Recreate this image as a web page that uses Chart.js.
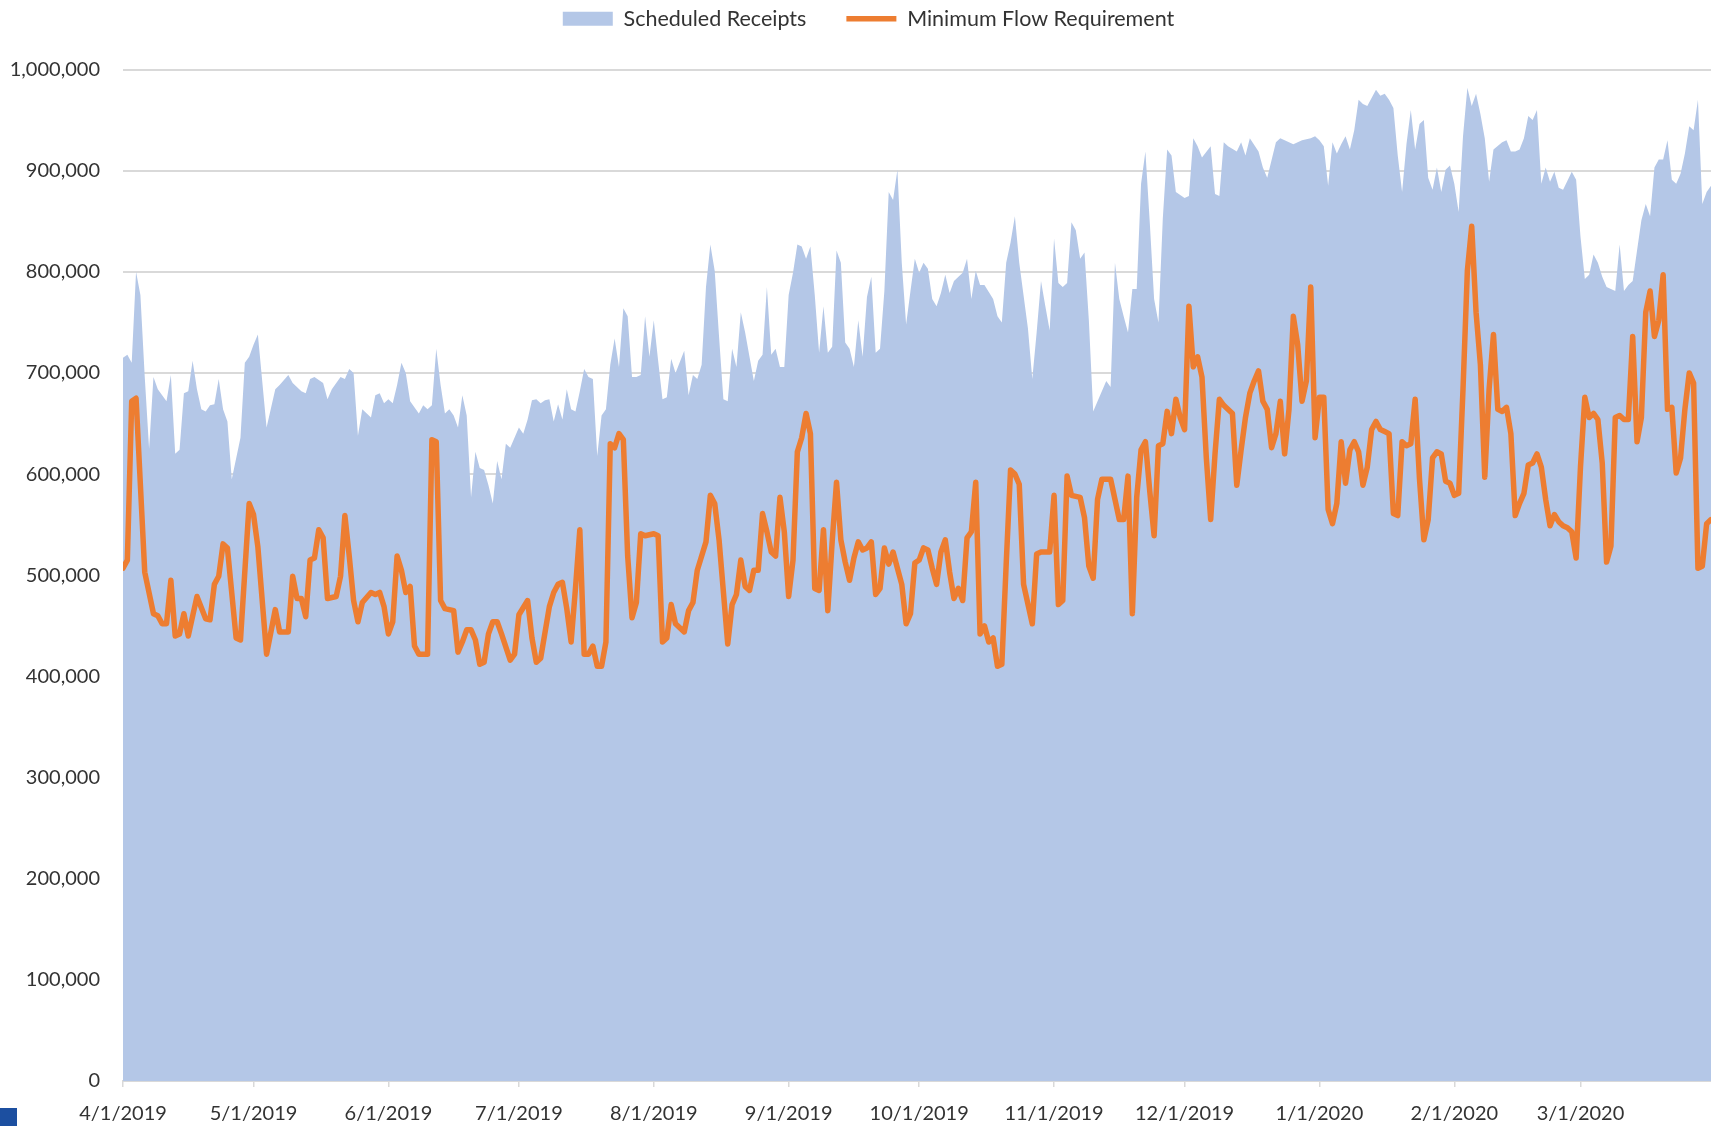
<!DOCTYPE html>
<html>
<head>
<meta charset="utf-8">
<script src="https://cdn.jsdelivr.net/npm/chart.js@4.4.1/dist/chart.umd.min.js"></script>
<style>
  html, body { margin: 0; padding: 0; background: #fff; }
  #wrap { position: relative; width: 1711px; height: 1126px; }
  #corner { position: absolute; left: 0; top: 1108px; width: 17px; height: 18px; background: #1c4fa0; }
</style>
</head>
<body>
<div id="wrap">
  <canvas id="chart" width="1711" height="1126"></canvas>
  <div id="corner"></div>
</div>
<script>
// day offsets from 4/1/2019, values in thousands
const receiptDays = [0,1,2,3,4,5,6,7,8,10,11,12,13,14,15,16,17,18,19,20,21,22,23,24,25,27,28,29,30,31,33,35,36,38,39,41,42,43,44,
  46,47,48,50,51,52,53,54,55,57,58,59,60,61,62,63,64,65,66,68,69,70,71,72,73,74,75,76,77,78,79,80,81,82,83,84,85,86,87,88,89,
  91,92,93,94,95,96,97,98,99,100,101,102,103,104,105,106,107,108,109,110,111,112,113,114,115,116,117,118,119,120,121,122,123,124,125,126,127,129,130,131,132,133,134,
  135,136,137,138,139,140,141,142,143,144,145,146,147,148,149,150,151,152,153,154,155,156,157,158,159,160,161,162,163,164,165,166,167,168,169,170,171,172,173,174,175,176,177,178,179,180,181,182,183,
  184,185,186,187,188,189,190,191,193,194,195,196,197,198,200,201,202,203,204,205,206,208,209,210,211,212,213,214,215,216,217,218,219,220,221,222,223,224,226,
  227,228,229,230,231,232,233,234,235,236,237,238,239,240,241,242,244,245,246,247,248,250,251,252,253,254,256,257,258,259,261,262,263,265,266,267,269,271,273,274,
  275,276,277,278,279,280,281,282,283,284,285,286,288,289,290,291,292,293,294,295,296,297,298,299,300,301,302,303,304,305,306,307,308,309,310,311,312,313,314,315,317,318,319,
  320,321,322,323,324,325,326,327,328,329,330,331,333,334,335,336,337,338,339,340,341,343,344,345,346,347,348,349,350,351,352,353,354,355,356,357,358,359,360,361,362,363,364,365];
const receiptVals = [715,718,710,800,777,696,625,696,684,672,698,620,624,680,682,712,684,664,662,668,669,694,664,652,595,636,710,716,728,738,646,684,688,698,690,682,680,694,696,
  690,674,684,696,694,704,700,638,664,656,678,680,670,674,670,688,710,700,672,660,668,664,668,724,688,660,664,658,646,678,658,577,622,606,604,589,571,613,595,630,626,
  646,640,654,673,674,670,673,674,652,669,654,684,664,662,682,704,696,694,618,658,664,708,734,706,764,756,696,696,698,756,716,752,712,674,676,714,700,722,678,698,694,708,785,
  827,801,736,674,672,724,706,760,740,716,692,712,718,785,718,724,706,706,777,799,827,825,813,825,777,720,766,720,726,821,809,730,724,706,752,716,775,795,720,724,781,879,871,901,809,748,781,813,799,
  809,803,773,766,779,797,779,791,799,813,773,801,787,787,773,756,750,809,829,855,809,744,694,740,791,766,742,833,789,785,789,849,841,813,819,752,662,672,692,686,
  809,773,756,740,783,783,887,919,849,773,750,853,921,915,879,873,875,932,924,913,924,877,875,928,924,919,928,915,932,919,903,893,928,932,930,926,930,932,934,930,
  924,885,928,917,926,934,921,940,970,966,964,980,974,976,970,962,915,879,926,960,921,946,950,893,881,903,879,901,905,887,859,934,982,964,976,956,932,889,921,928,930,919,919,
  921,932,954,950,960,887,903,889,899,883,881,899,891,835,793,797,817,809,795,785,781,827,781,787,791,821,851,867,855,903,911,911,930,891,887,897,917,944,940,970,867,879,885,877];

const flowDays = [0,1,2,3,5,7,8,9,10,11,12,13,14,15,17,19,20,21,22,23,24,26,27,29,30,31,33,35,36,38,39,40,41,42,43,44,45,
  46,47,49,50,51,52,53,54,55,57,58,59,60,61,62,63,64,65,66,67,68,70,71,72,73,74,76,77,78,79,80,81,82,83,84,85,86,87,89,90,
  91,93,94,95,96,98,99,100,101,102,103,104,105,106,107,108,109,110,111,112,113,114,115,116,117,118,119,120,122,123,124,125,126,127,129,130,131,132,134,135,
  136,137,139,140,141,142,143,144,145,146,147,148,149,150,151,152,153,154,155,156,157,158,159,160,161,162,163,164,165,166,167,168,169,170,171,172,173,174,175,176,177,178,179,180,181,
  182,183,184,185,186,187,188,189,190,191,192,193,194,195,196,197,198,199,200,201,202,203,204,205,206,207,209,210,211,213,214,215,216,217,218,220,221,222,223,224,225,227,228,229,
  230,231,232,233,234,235,236,237,238,239,240,241,242,243,244,245,246,247,248,249,250,251,252,253,255,256,257,258,259,260,261,262,263,264,265,266,267,268,269,270,271,272,273,274,275,
  276,277,278,279,280,281,282,283,284,285,286,287,288,289,290,291,292,293,294,295,296,297,298,299,300,301,302,303,304,305,306,307,308,309,310,311,312,313,314,315,316,317,318,319,
  320,321,322,323,324,325,326,327,328,329,330,331,332,333,334,335,336,337,338,339,340,341,342,343,344,345,346,347,348,349,350,351,352,353,354,355,356,357,358,359,360,361,362,363,364,365];
const flowVals = [507,515,672,675,503,462,460,452,452,495,440,442,462,440,479,457,456,491,499,531,527,438,436,571,560,528,422,466,444,444,499,477,477,459,515,517,545,
  537,477,479,499,559,519,475,454,473,483,481,483,469,442,454,519,505,483,489,430,422,422,634,632,475,467,465,424,434,446,446,436,412,414,442,454,454,442,416,422,
  461,475,438,414,418,469,483,491,493,467,434,487,545,422,422,430,410,410,434,630,626,640,634,519,458,473,541,539,541,539,434,438,471,452,444,465,473,505,533,579,
  571,535,432,471,481,515,489,485,505,505,561,543,523,519,577,543,479,515,622,636,660,640,487,485,545,465,533,592,535,513,495,517,533,525,527,533,481,487,527,511,523,507,491,452,462,
  512,515,527,525,507,491,523,535,503,477,487,475,537,543,592,442,450,434,438,410,412,511,604,600,590,491,452,521,523,523,579,471,475,598,579,577,557,509,497,575,595,595,575,555,
  555,598,462,577,624,632,583,539,628,630,662,640,674,656,644,766,706,716,696,616,555,620,674,668,660,589,624,656,680,692,702,672,664,626,640,672,620,664,756,728,672,692,785,636,676,
  676,565,551,571,632,591,624,632,622,589,607,644,652,644,642,640,561,559,632,628,630,674,595,535,555,616,622,620,593,591,579,581,684,801,845,760,708,597,684,738,664,662,666,640,
  559,571,581,609,611,620,607,575,549,560,553,549,547,543,517,607,676,656,660,654,611,513,529,656,658,654,654,736,632,656,760,781,736,752,797,664,666,601,616,664,700,690,507,509,551,555];

const tickDays = [0,30,61,91,122,153,183,214,244,275,306,335];
const tickLabels = ['4/1/2019','5/1/2019','6/1/2019','7/1/2019','8/1/2019','9/1/2019','10/1/2019','11/1/2019','12/1/2019','1/1/2020','2/1/2020','3/1/2020'];

const blue = '#b4c7e7';
const orange = '#ed7d31';
const textColor = '#333333';
const gridColor = '#d9d9d9';

Chart.defaults.font.family = 'Lato';
Chart.defaults.font.size = 20;
Chart.defaults.color = textColor;

const toPoints = (days, vals) => days.map((d, i) => ({ x: d, y: vals[i] * 1000 }));

// push the plot area down below the legend, nudge legend right a bit
const legendSpacer = {
    id: 'legendSpacer',
    beforeInit(chart) {
        const fit = chart.legend.fit;
        chart.legend.fit = function () {
            fit.call(this);
            this.height += 30;
        };
    },
    afterLayout(chart) {
        chart.legend.left += 13;
        chart.legend.right += 13;
    }
};

new Chart(document.getElementById('chart'), {
    type: 'line',
    plugins: [legendSpacer],
    data: {
        datasets: [{
            label: 'Scheduled Receipts',
            data: toPoints(receiptDays, receiptVals),
            backgroundColor: blue,
            borderWidth: 0,
            pointRadius: 0,
            fill: 'origin',
            order: 2
        }, {
            label: 'Minimum Flow Requirement',
            data: toPoints(flowDays, flowVals),
            borderColor: orange,
            borderWidth: 5.5,
            borderJoinStyle: 'round',
            borderCapStyle: 'round',
            pointRadius: 0,
            fill: false,
            order: 1
        }]
    },
    options: {
        responsive: false,
        animation: false,
        devicePixelRatio: 1,
        layout: { padding: { top: -32, left: 0, right: 0, bottom: 0 } },
        plugins: {
            tooltip: { enabled: false },
            legend: {
                position: 'top',
                labels: {
                    usePointStyle: true,
                    pointStyleWidth: 50,
                    boxHeight: 14,
                    padding: 40,
                    font: { size: 21.5 },
                    generateLabels: () => [
                        { text: 'Scheduled Receipts', fillStyle: blue, strokeStyle: blue, lineWidth: 0, pointStyle: 'rect', datasetIndex: 0, hidden: false, fontColor: textColor },
                        { text: 'Minimum Flow Requirement', fillStyle: orange, strokeStyle: orange, lineWidth: 5.5, pointStyle: 'line', datasetIndex: 1, hidden: false, fontColor: textColor }
                    ]
                }
            }
        },
        scales: {
            x: {
                type: 'linear',
                min: 0,
                max: 365,
                afterBuildTicks: (scale) => { scale.ticks = tickDays.map(v => ({ value: v })); },
                afterFit: (scale) => { scale.height = 45; },
                ticks: {
                    autoSkip: false,
                    maxRotation: 0,
                    padding: 15,
                    callback: (value, index) => tickLabels[index]
                },
                grid: { drawOnChartArea: false, drawTicks: true, tickLength: 6, color: gridColor, lineWidth: 1.5 },
                border: { display: true, color: gridColor, width: 2 }
            },
            y: {
                min: 0,
                max: 1000000,
                afterFit: (scale) => { scale.width = 123; },
                ticks: {
                    stepSize: 100000,
                    padding: 23,
                    callback: (value) => value.toLocaleString('en-US')
                },
                grid: { color: gridColor, lineWidth: 2, drawTicks: false },
                border: { display: false }
            }
        }
    }
});
</script>
</body>
</html>
